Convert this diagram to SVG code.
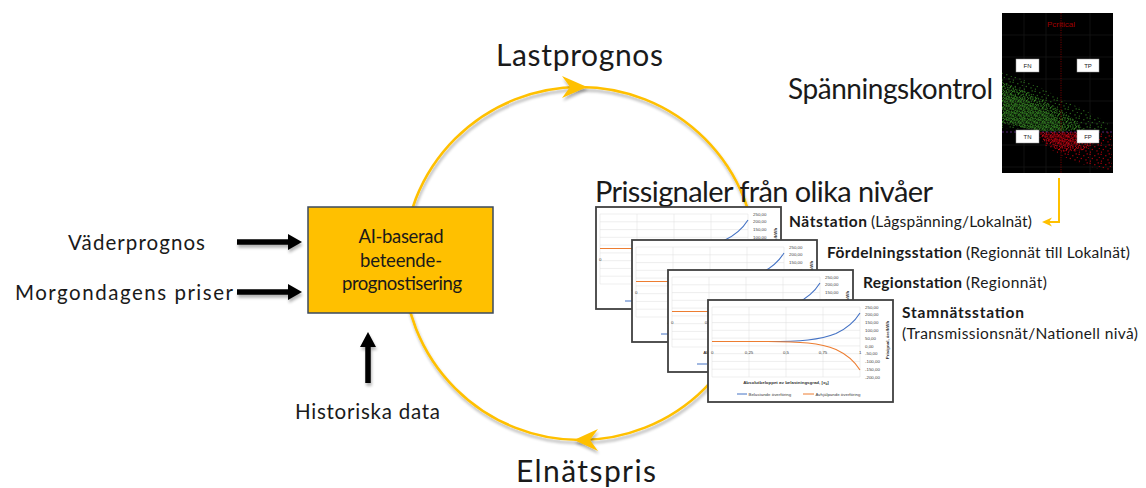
<svg xmlns="http://www.w3.org/2000/svg" xmlns:xlink="http://www.w3.org/1999/xlink" width="1146" height="488" viewBox="0 0 1146 488">
<style>
.lbl{font-family:Lato,"Liberation Sans",sans-serif;fill:#1a1a1a}
.big{font-size:30px}
.mid{font-size:20.5px}
.st{font-size:15.5px}
.b{font-weight:bold}
.box{font-size:18.5px;text-anchor:middle}
.tk{font-family:"Liberation Sans",Arial,sans-serif;font-size:4.4px;fill:#404040}
.tt{font-family:"Liberation Sans",Arial,sans-serif;font-size:4.4px;fill:#333;font-weight:bold}
.qb{font-family:"Liberation Sans",Arial,sans-serif;font-size:6px;fill:#222;text-anchor:middle}
.ring{fill:none;stroke:#FFC000;stroke-width:2.6}
.ya{fill:#FFC000}
.blk{stroke:#000;stroke-width:5.5;fill:none}
</style>
<defs>
<filter id="sh" x="-20%" y="-20%" width="140%" height="140%">
<feGaussianBlur in="SourceAlpha" stdDeviation="1.6"/>
<feOffset dx="1" dy="2.5"/>
<feComponentTransfer><feFuncA type="linear" slope="0.3"/></feComponentTransfer>
<feMerge><feMergeNode/><feMergeNode in="SourceGraphic"/></feMerge>
</filter>
<pattern id="pgA" width="8" height="7" patternUnits="userSpaceOnUse">
<g fill="#2f7a1f">
<rect x="0.3" y="0.4" width="1.3" height="1.3"/><rect x="3.1" y="1.2" width="1.2" height="1.2"/><rect x="5.9" y="0.2" width="1.3" height="1.3"/>
<rect x="1.6" y="3.0" width="1.2" height="1.2"/><rect x="4.5" y="3.6" width="1.3" height="1.3"/><rect x="6.8" y="2.7" width="1.1" height="1.1"/>
<rect x="0.2" y="5.4" width="1.2" height="1.2"/><rect x="2.9" y="5.6" width="1.3" height="1.3"/><rect x="5.6" y="5.9" width="1.2" height="1.0"/>
</g>
<g fill="#3f9a2a"><rect x="2.2" y="2.0" width="1" height="1"/><rect x="7.0" y="4.8" width="0.9" height="0.9"/><rect x="4.2" y="0.1" width="0.9" height="0.9"/></g>
</pattern>
<pattern id="pgB" width="11" height="9" patternUnits="userSpaceOnUse">
<g fill="#2a6b1b">
<rect x="0.5" y="0.8" width="1.2" height="1.2"/><rect x="5.2" y="2.1" width="1.2" height="1.2"/><rect x="8.6" y="0.3" width="1.2" height="1.2"/>
<rect x="2.7" y="4.9" width="1.2" height="1.2"/><rect x="7.4" y="6.3" width="1.2" height="1.2"/><rect x="0.9" y="7.6" width="1.1" height="1.1"/><rect x="9.8" y="4.0" width="1" height="1"/>
</g>
</pattern>
<pattern id="prA" width="8" height="7" patternUnits="userSpaceOnUse">
<g fill="#b5000d">
<rect x="0.3" y="0.4" width="1.3" height="1.3"/><rect x="3.1" y="1.2" width="1.2" height="1.2"/><rect x="5.9" y="0.2" width="1.3" height="1.3"/>
<rect x="1.6" y="3.0" width="1.2" height="1.2"/><rect x="4.5" y="3.6" width="1.3" height="1.3"/><rect x="6.8" y="2.7" width="1.1" height="1.1"/>
<rect x="0.2" y="5.4" width="1.2" height="1.2"/><rect x="2.9" y="5.6" width="1.3" height="1.3"/><rect x="5.6" y="5.9" width="1.2" height="1.0"/>
</g>
<g fill="#d81420"><rect x="2.2" y="2.0" width="1" height="1"/><rect x="7.0" y="4.8" width="0.9" height="0.9"/><rect x="4.2" y="0.1" width="0.9" height="0.9"/></g>
</pattern>
<pattern id="prB" width="11" height="9" patternUnits="userSpaceOnUse">
<g fill="#b0000b">
<rect x="0.5" y="0.8" width="1.2" height="1.2"/><rect x="5.2" y="2.1" width="1.2" height="1.2"/><rect x="8.6" y="0.3" width="1.2" height="1.2"/>
<rect x="2.7" y="4.9" width="1.2" height="1.2"/><rect x="7.4" y="6.3" width="1.2" height="1.2"/><rect x="0.9" y="7.6" width="1.1" height="1.1"/><rect x="9.8" y="4.0" width="1" height="1"/>
</g>
</pattern>
<g id="chartTpl">
<rect x="0" y="0" width="185" height="102" fill="#fff" stroke="#404040" stroke-width="1.8"/>
<path d="M4 7H152M4 14.8H152M4 22.6H152M4 30.3H152M4 38.1H152M4 45.9H152M4 53.7H152M4 61.4H152M4 69.2H152M4 77H152M4 7V77M41 7V77M78 7V77M115 7V77M152 7V77" stroke="#dcdcdc" stroke-width="0.5" fill="none"/>
<path d="M4 41.5H60C92 41.5 112 40 128 33.5C140 28 147 21 152 13" fill="none" stroke="#4472c4" stroke-width="1.1"/>
<path d="M4 41.5H60C92 41.5 112 43 128 49.5C140 55 147 62 152 70" fill="none" stroke="#ed7d31" stroke-width="1.1"/>
<text class="tk" x="157" y="8.6">250,00</text>
<text class="tk" x="157" y="16.4">200,00</text>
<text class="tk" x="157" y="24.2">150,00</text>
<text class="tk" x="157" y="31.9">100,00</text>
<text class="tk" x="157" y="39.7">50,00</text>
<text class="tk" x="157" y="47.5">0,00</text>
<text class="tk" x="157" y="55.3">-50,00</text>
<text class="tk" x="157" y="63">-100,00</text>
<text class="tk" x="157" y="70.8">-150,00</text>
<text class="tk" x="157" y="78.6">-200,00</text>
<text class="tk" x="3" y="53.5">0</text>
<text class="tk" x="41" y="53.5" text-anchor="middle">0,25</text>
<text class="tk" x="78" y="53.5" text-anchor="middle">0,5</text>
<text class="tk" x="115" y="53.5" text-anchor="middle">0,75</text>
<text class="tk" x="151" y="53.5">1</text>
<text class="tt" x="180.5" y="40" text-anchor="middle" transform="rotate(-90 180.5 40)">Prisignal, öre/kWh</text>
<text class="tt" x="78" y="84" text-anchor="middle">Absolutbeloppet av belastningsgrad, [x<tspan font-size="3.2" dy="1">b</tspan><tspan dy="-1">]</tspan></text>
<line x1="29" y1="94" x2="39" y2="94" stroke="#4472c4" stroke-width="1"/>
<text class="tk" x="40.5" y="95.5">Belastande överföring</text>
<line x1="95" y1="94" x2="106" y2="94" stroke="#ed7d31" stroke-width="1"/>
<text class="tk" x="107.5" y="95.5">Avhjälpande överföring</text>
</g>
</defs>

<rect width="1146" height="488" fill="#fff"/>

<g id="connectors">
<circle class="ring" cx="580" cy="263.5" r="176.5" filter="url(#sh)"/>
<polygon class="ya" points="587,87 562,76 570,87 562,98" filter="url(#sh)"/>
<polygon class="ya" points="574,440 598,429 590,440 598,451" filter="url(#sh)"/>
<g filter="url(#sh)">
<line class="blk" x1="237" y1="242" x2="290" y2="242"/>
<polygon points="288,234 302,242 288,250" fill="#000"/>
<line class="blk" x1="237" y1="292" x2="290" y2="292"/>
<polygon points="288,284 302,292 288,300" fill="#000"/>
<line class="blk" x1="368" y1="383" x2="368" y2="345"/>
<polygon points="360,347 368,332 376,347" fill="#000"/>
</g>
<path d="M1059 178V222H1049" fill="none" stroke="#FFC000" stroke-width="2"/>
<polygon class="ya" points="1042,222 1052,217.5 1049,222 1052,226.5"/>
</g>

<g id="node-ai">
<rect x="308" y="207" width="185" height="106" fill="#FFC000" stroke="#3b4a5e" stroke-width="1.5"/>
<text class="lbl box" x="401" y="243" textLength="85">AI-baserad</text>
<text class="lbl box" x="401" y="267" textLength="82">beteende-</text>
<text class="lbl box" x="402" y="290" textLength="120">prognostisering</text>
</g>

<g id="node-lastprognos"><text class="lbl big" x="496" y="66" textLength="167">Lastprognos</text></g>
<g id="node-elnatspris"><text class="lbl big" x="516" y="482" textLength="140">Elnätspris</text></g>
<g id="node-vader"><text class="lbl mid" x="68" y="250" textLength="137">Väderprognos</text></g>
<g id="node-morgon"><text class="lbl mid" x="15" y="300" textLength="218">Morgondagens priser</text></g>
<g id="node-historiska"><text class="lbl mid" x="295" y="419" textLength="145">Historiska data</text></g>
<g id="node-spanning-label"><text class="lbl big" x="788" y="99" textLength="205" style="font-size:28px">Spänningskontrol</text></g>

<g id="node-spanning-image">
<rect x="1002" y="13" width="111" height="160" fill="#000"/>
<path d="M1024 13V173M1046 13V173M1090 13V173M1002 35H1113M1002 57H1113M1002 79H1113M1002 101H1113M1002 123H1113M1002 145H1113M1002 167H1113" stroke="#1c1c1c" stroke-width="0.6"/>
<polygon points="1002,72 1030,82 1060,98 1090,113 1108,123 1108,131 1002,128" fill="url(#pgB)"/>
<polygon points="1002,82 1030,93 1055,107 1075,120 1084,131 1040,131 1020,127 1002,123" fill="url(#pgA)"/>
<polygon points="1002,90 1030,102 1052,115 1066,131 1040,131 1020,126 1002,118" fill="url(#pgA)" transform="translate(1.5 1)"/>
<polygon points="1036,132 1112,132 1112,171 1095,168 1070,160 1046,147" fill="url(#prB)"/>
<polygon points="1038,132 1090,132 1098,141 1084,150 1062,152 1045,143" fill="url(#prA)"/>
<polygon points="1040,133 1080,133 1085,140 1065,146 1048,140" fill="url(#prA)" transform="translate(1.5 1)"/>
<line x1="1061" y1="13" x2="1061" y2="173" stroke="#8b0000" stroke-width="0.8" stroke-dasharray="1.2 1.2"/>
<line x1="1002" y1="132" x2="1113" y2="132" stroke="#7030a0" stroke-width="0.7" stroke-dasharray="2 2"/>
<text x="1061" y="27" text-anchor="middle" font-family="'Liberation Sans',Arial,sans-serif" font-size="8" fill="#a00000">Pcritical</text>
<rect x="1016" y="59" width="23" height="13" fill="#fff" stroke="#999" stroke-width="0.5"/>
<text class="qb" x="1027.5" y="67.5">FN</text>
<rect x="1077" y="59" width="22" height="13" fill="#fff" stroke="#999" stroke-width="0.5"/>
<text class="qb" x="1088" y="67.5">TP</text>
<rect x="1016" y="130" width="23" height="13" fill="#fff" stroke="#999" stroke-width="0.5"/>
<text class="qb" x="1027.5" y="138.5">TN</text>
<rect x="1077" y="130" width="22" height="13" fill="#fff" stroke="#999" stroke-width="0.5"/>
<text class="qb" x="1088" y="138.5">FP</text>
</g>

<g id="node-prissignaler-title"><text class="lbl big" x="595" y="202" textLength="338" style="font-size:29px">Prissignaler från olika nivåer</text></g>

<g id="node-chart-1"><use href="#chartTpl" xlink:href="#chartTpl" x="596" y="207"/></g>
<g id="node-chart-2"><use href="#chartTpl" xlink:href="#chartTpl" x="632" y="240"/></g>
<g id="node-chart-3"><use href="#chartTpl" xlink:href="#chartTpl" x="668" y="270"/></g>
<g id="node-chart-4"><use href="#chartTpl" xlink:href="#chartTpl" x="708" y="300"/></g>

<g id="node-natstation">
<text class="lbl st b" x="789" y="227" textLength="78">Nätstation</text>
<text class="lbl st" x="871" y="227" textLength="161">(Lågspänning/Lokalnät)</text>
</g>
<g id="node-fordelning">
<text class="lbl st b" x="827" y="258" textLength="135">Fördelningsstation</text>
<text class="lbl st" x="966" y="258" textLength="164">(Regionnät till Lokalnät)</text>
</g>
<g id="node-region">
<text class="lbl st b" x="863" y="288" textLength="99">Regionstation</text>
<text class="lbl st" x="966" y="288" textLength="81">(Regionnät)</text>
</g>
<g id="node-stamnat">
<text class="lbl st b" x="902" y="318" textLength="122">Stamnätsstation</text>
<text class="lbl st" x="902" y="339" textLength="236">(Transmissionsnät/Nationell nivå)</text>
</g>
</svg>
